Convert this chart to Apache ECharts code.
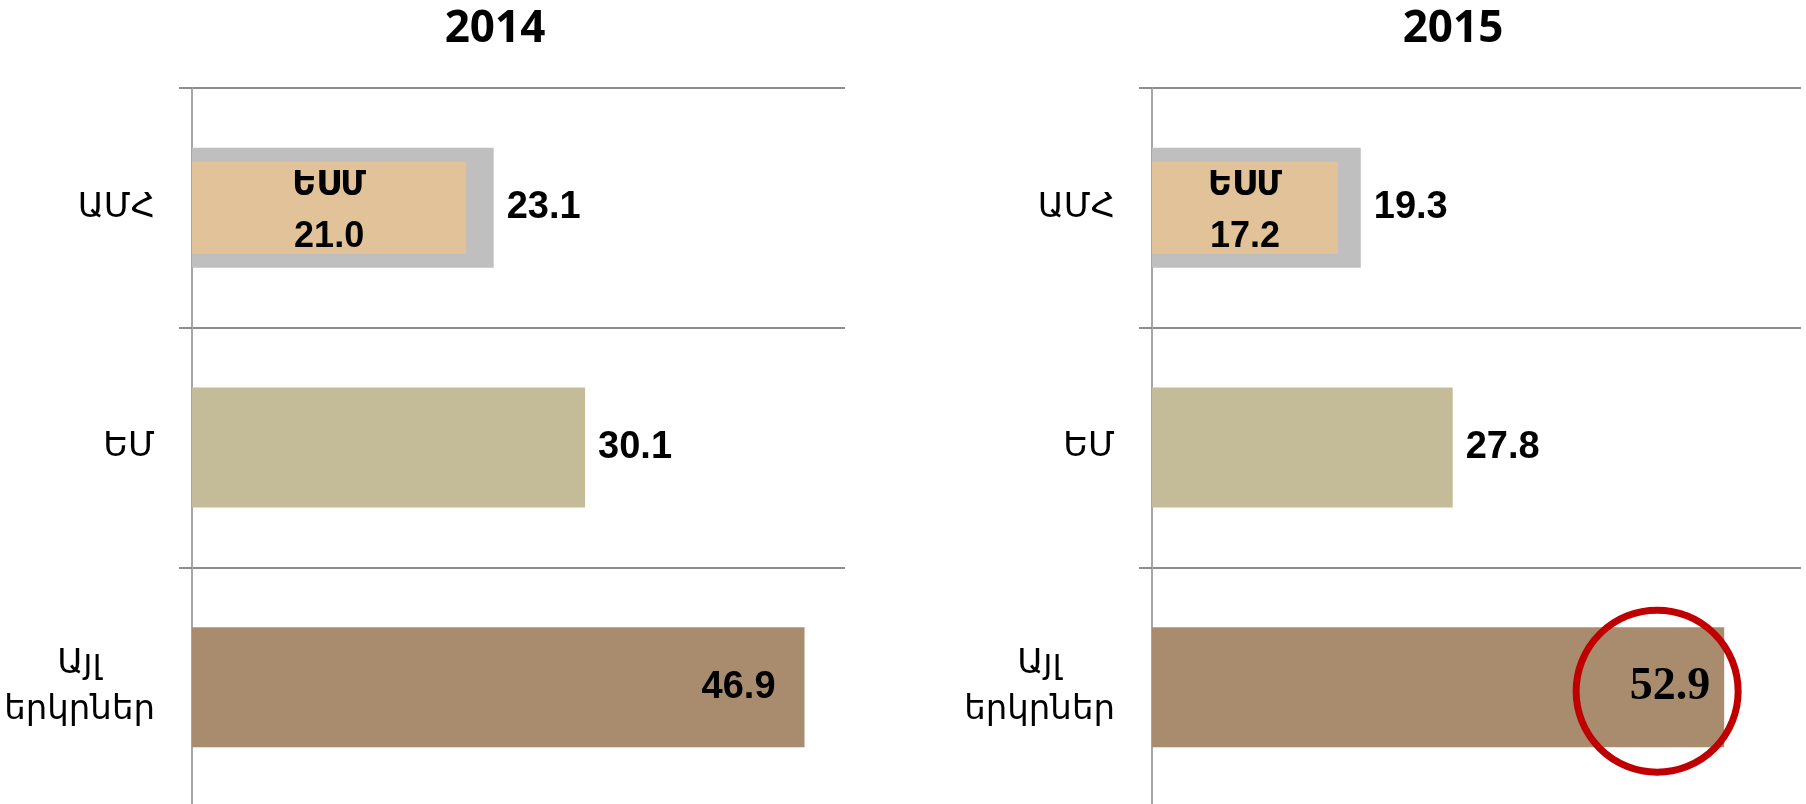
<!DOCTYPE html>
<html><head><meta charset="utf-8">
<script src="https://cdn.jsdelivr.net/npm/echarts@6/dist/echarts.min.js"></script>
<style>html,body{margin:0;padding:0;background:#fff}#c{width:1806px;height:804px}</style>
</head><body><div id="c"></div>
<script>
const years = ['2014', '2015'];
const categories = ['ԱՄՀ', 'ԵՄ', 'Այլ\nերկրներ'];
const totals2014 = [23.1, 30.1, 46.9];
const totals2015 = [19.3, 27.8, 52.9];
const innerName = 'ԵՍՄ';
const inner2014 = [21.0, '-', '-'];
const inner2015 = [17.2, '-', '-'];
const axisMax = [50, 60];
const highlightValue = 46.7;

const barColors = ['#bfbfbf', '#c4bc98', '#a98c6e'];
const innerColor = '#e2c399';
const sansBold = '"Liberation Sans",Arial,sans-serif';
const grids = [
  {left: 192, top: 88, width: 653, height: 719, outerBoundsMode: 'none'},
  {left: 1152, top: 88, width: 649, height: 719, outerBoundsMode: 'none'}
];
const titleX = [495, 1453];

const chart = echarts.init(document.getElementById('c'), null, {renderer: 'canvas'});

function totalData(vals, yi) {
  return vals.map((v, i) => {
    const item = {value: v, itemStyle: {color: barColors[i]}};
    if (i === 2) {
      item.label = yi === 0
        ? {position: 'insideRight', distance: 29}
        : {position: 'insideRight', distance: 14, fontFamily: '"Liberation Serif","DejaVu Serif",serif', fontSize: 46};
    }
    return item;
  });
}

const totals = [totals2014, totals2015];
const inners = [inner2014, inner2015];

const yAxis = [];
const xAxis = [];
const series = [];
[0, 1].forEach(g => {
  xAxis.push({type: 'value', gridIndex: g, min: 0, max: axisMax[g], show: false});
  yAxis.push({
    type: 'category', gridIndex: g, inverse: true, data: categories,
    axisLine: {show: true, lineStyle: {color: '#a6a6a6', width: 2}},
    axisTick: {show: true, length: 13, lineStyle: {color: '#8c8c8c', width: 2}},
    splitLine: {show: true, lineStyle: {color: '#8c8c8c', width: 2}},
    axisLabel: {
      margin: 37, align: 'right',
      formatter: v => v.split('\n').map(s => '{l|' + s + '}').join('\n'),
      rich: {l: {fontFamily: '"DejaVu Sans",sans-serif', fontSize: 34, lineHeight: 46, align: 'center', color: '#000'}}
    }
  });
  yAxis.push({type: 'category', gridIndex: g, inverse: true, data: categories, show: false});
  const s = {
    type: 'bar', name: years[g], xAxisIndex: g, yAxisIndex: g * 2, barWidth: 120,
    data: totalData(totals[g], g),
    label: {show: true, position: 'right', distance: 13, color: '#000', fontFamily: sansBold, fontWeight: 'bold', fontSize: 38,
      formatter: p => p.value.toFixed(1)},
    silent: true
  };
  if (g === 1) {
    s.markPoint = {
      silent: true, animation: false,
      data: [{coord: [highlightValue, 2], symbol: 'circle', symbolSize: 162, symbolOffset: [0, 4],
        itemStyle: {color: 'rgba(0,0,0,0)', borderColor: '#c00000', borderWidth: 7},
        label: {show: false}}]
    };
  }
  series.push(s);
  series.push({
    type: 'bar', name: innerName, xAxisIndex: g, yAxisIndex: g * 2 + 1, barWidth: 92,
    data: inners[g], itemStyle: {color: innerColor}, silent: true,
    label: {show: true, position: 'inside', color: '#000', offset: [0, 4],
      formatter: p => '{a|' + p.seriesName + '}\n{b|' + p.value.toFixed(1) + '}',
      rich: {
        a: {fontFamily: '"DejaVu Sans",sans-serif', fontWeight: 'bold', fontSize: 33, lineHeight: 50},
        b: {fontFamily: sansBold, fontWeight: 'bold', fontSize: 36, lineHeight: 50}
      }}
  });
});

chart.setOption({
  animation: false,
  backgroundColor: '#fff',
  grid: grids,
  xAxis, yAxis, series,
  graphic: years.map((y, i) => ({
    type: 'text', x: titleX[i], y: 29,
    style: {text: y, align: 'center', verticalAlign: 'middle', fill: '#000',
      font: 'bold 44px "Open Sans","Liberation Sans",sans-serif'}
  }))
});
</script></body></html>
